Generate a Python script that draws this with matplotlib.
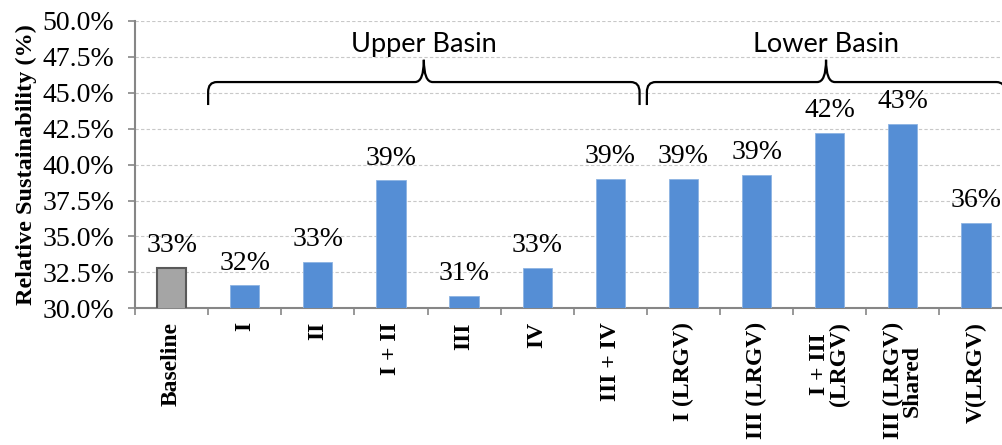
import numpy as np
from matplotlib import pyplot as plt
from matplotlib.path import Path
from matplotlib.patches import PathPatch
from matplotlib.ticker import FuncFormatter, FixedLocator

categories = ['Baseline', 'I', 'II', 'I + II', 'III', 'IV', 'III + IV',
              'I (LRGV)', 'III (LRGV)', 'I + III\n(LRGV)', 'III (LRGV)\nShared', 'V(LRGV)']
values = [32.8, 31.6, 33.25, 38.9, 30.86, 32.83, 39.0,
          39.0, 39.27, 42.2, 42.84, 35.97]
groups = [('Upper Basin', 1, 6), ('Lower Basin', 7, 11)]

plt.rcParams['font.family'] = ['Liberation Serif', 'DejaVu Serif']

fig = plt.figure(figsize=(10.03, 4.45), dpi=100)
ax = fig.add_axes([135 / 1003, 1 - 308.3 / 445, 1 - 135 / 1003, (308.3 - 21) / 445])

x = np.arange(len(categories))
colors = ['#a5a5a5'] + ['#558ed5'] * (len(categories) - 1)
edges = ['#595959'] + ['#8db3e2'] * (len(categories) - 1)
ax.bar(x, values, width=0.4, color=colors, edgecolor=edges, linewidth=[1.5] + [0.6] * 11, zorder=3)

for xi, v in zip(x, values):
    ax.annotate(f'{v:.0f}%', (xi, v), xytext=(0, 7), textcoords='offset points',
                ha='center', va='bottom', fontsize=20, clip_on=False)

ax.set_ylim(30, 50)
ax.set_xlim(-0.5, 11.37)
ax.set_yticks(np.arange(30, 50.1, 2.5))
ax.yaxis.set_major_formatter(FuncFormatter(lambda v, p: f'{v:.1f}%'))
ax.tick_params(axis='y', labelsize=20, length=5, width=1.2, color='#868686', pad=10)
ax.grid(axis='y', color='#c8c8c8', linestyle=(0, (3, 2)), linewidth=0.8, zorder=0)

ax.set_xticks(x)
ax.set_xticklabels(categories, rotation=90, fontweight='bold', fontsize=17, linespacing=0.9)
ax.xaxis.set_minor_locator(FixedLocator(np.arange(-0.5, 12, 1)))
ax.tick_params(axis='x', which='major', length=0, pad=10)
ax.tick_params(axis='x', which='minor', length=5, width=1.2, color='#868686')

for s in ['top', 'right']:
    ax.spines[s].set_visible(False)
for s in ['left', 'bottom']:
    ax.spines[s].set_color('#868686')
    ax.spines[s].set_linewidth(1.5)

ax.set_ylabel('Relative Sustainability (%)', fontsize=17.5, fontweight='bold', labelpad=4)


def brace(x0, x1, y_end, y_line, y_tip):
    xm = (x0 + x1) / 2
    rx, ry = 0.12, 0.7
    verts = [(x0, y_end), (x0, y_line - ry), (x0, y_line), (x0 + rx, y_line),
             (xm - rx, y_line), (xm, y_line), (xm, y_tip), (xm, y_line), (xm + rx, y_line),
             (x1 - rx, y_line), (x1, y_line), (x1, y_line - ry), (x1, y_end)]
    codes = [Path.MOVETO, Path.LINETO, Path.CURVE3, Path.CURVE3,
             Path.LINETO, Path.CURVE3, Path.CURVE3, Path.CURVE3, Path.CURVE3,
             Path.LINETO, Path.CURVE3, Path.CURVE3, Path.LINETO]
    return PathPatch(Path(verts, codes), facecolor='none', edgecolor='black',
                     linewidth=1.6, clip_on=False, zorder=4)


for name, first, last in groups:
    x0, x1 = first - 0.5, last + 0.4
    ax.add_patch(brace(x0, x1, 44.15, 45.75, 47.3))
    ax.text((x0 + x1) / 2, 47.85, name, ha='center', va='baseline', fontsize=19.5,
            family=['Lato', 'DejaVu Sans'], clip_on=False)

plt.savefig('out.png', dpi=100)
